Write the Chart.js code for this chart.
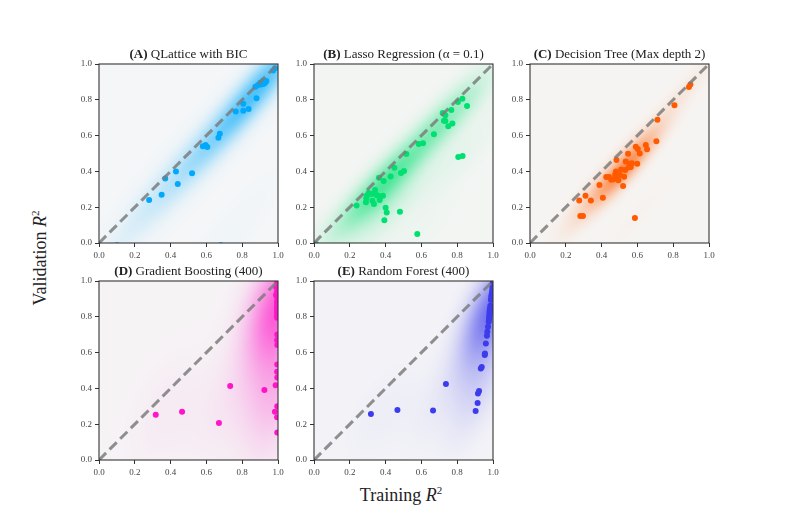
<!DOCTYPE html>
<html>
<head>
<meta charset="utf-8">
<script src="https://cdn.jsdelivr.net/npm/chart.js@4.4.1/dist/chart.umd.min.js"></script>
<style>
body { margin: 0; background: #fff; width: 789px; height: 526px; position: relative; overflow: hidden; font-family: "Liberation Serif", serif; }
canvas { position: absolute; }
.axlab { position: absolute; font-size: 18px; color: #222; white-space: nowrap; }
#ylab { left: 40px; top: 258px; transform: translate(-50%, -50%) rotate(-90deg); }
#xlab { left: 401px; top: 495px; transform: translate(-50%, -50%); }
sup { font-size: 11px; }
</style>
</head>
<body>
<div class="axlab" id="ylab">Validation <i>R</i><sup>2</sup></div>
<div class="axlab" id="xlab">Training <i>R</i><sup>2</sup></div>
<script>
const tickVals = [0, 0.2, 0.4, 0.6, 0.8, 1.0];
const titleBold = ["(A)", "(B)", "(C)", "(D)", "(E)"];
const titleRest = [" QLattice with BIC", " Lasso Regression (α = 0.1)", " Decision Tree (Max depth 2)", " Gradient Boosting (400)", " Random Forest (400)"];

// (A) QLattice
const aTrain = [0.10, 0.68, 0.28, 0.35, 0.37, 0.43, 0.44, 0.52, 0.58, 0.595, 0.605, 0.667, 0.675, 0.764, 0.806, 0.806, 0.836, 0.88, 0.874, 0.889, 0.902, 0.917, 0.93, 0.917, 0.925, 0.91, 0.92, 0.935, 0.905, 0.973, 0.983];
const aValid = [-0.012, -0.012, 0.24, 0.27, 0.36, 0.40, 0.33, 0.39, 0.54, 0.547, 0.536, 0.588, 0.611, 0.734, 0.778, 0.739, 0.748, 0.808, 0.873, 0.882, 0.895, 0.906, 0.90, 0.888, 0.893, 0.89, 0.898, 0.905, 0.885, 0.963, 0.976];
// (B) Lasso
const bTrain = [0.012, 0.238, 0.29, 0.292, 0.296, 0.305, 0.32, 0.326, 0.335, 0.341, 0.348, 0.359, 0.367, 0.363, 0.385, 0.389, 0.393, 0.40, 0.406, 0.428, 0.449, 0.48, 0.486, 0.503, 0.516, 0.577, 0.585, 0.609, 0.67, 0.719, 0.726, 0.734, 0.734, 0.75, 0.767, 0.773, 0.804, 0.806, 0.829, 0.83, 0.855];
const bValid = [-0.005, 0.209, 0.227, 0.25, 0.266, 0.279, 0.274, 0.236, 0.218, 0.296, 0.268, 0.264, 0.240, 0.365, 0.264, 0.346, 0.127, 0.197, 0.171, 0.371, 0.421, 0.175, 0.391, 0.402, 0.497, 0.05, 0.553, 0.557, 0.607, 0.726, 0.683, 0.713, 0.682, 0.652, 0.743, 0.667, 0.788, 0.48, 0.806, 0.486, 0.765];
// (C) Decision tree
const cTrain = [0.275, 0.281, 0.296, 0.31, 0.34, 0.388, 0.407, 0.426, 0.442, 0.454, 0.467, 0.476, 0.48, 0.483, 0.485, 0.494, 0.502, 0.509, 0.52, 0.526, 0.532, 0.535, 0.548, 0.552, 0.559, 0.563, 0.569, 0.586, 0.591, 0.599, 0.602, 0.613, 0.647, 0.654, 0.706, 0.712, 0.807, 0.888, 0.896];
const cValid = [0.238, 0.151, 0.151, 0.264, 0.238, 0.324, 0.253, 0.369, 0.369, 0.354, 0.356, 0.382, 0.40, 0.464, 0.374, 0.35, 0.38, 0.41, 0.318, 0.37, 0.408, 0.456, 0.499, 0.423, 0.443, 0.425, 0.445, 0.14, 0.538, 0.443, 0.525, 0.50, 0.547, 0.524, 0.568, 0.688, 0.77, 0.872, 0.885];
// (D) Gradient boosting
const dTrain = [0.317, 0.464, 0.67, 0.733, 0.924, 0.995, 0.99, 0.989, 0.995, 0.996, 0.995, 0.996, 0.995, 0.996, 0.995, 0.996, 0.996, 0.995, 0.996, 0.987, 0.996, 0.983, 0.995, 0.996, 0.996, 0.995, 0.996, 0.995, 0.996, 0.995, 0.997, 0.996];
const dValid = [0.253, 0.27, 0.207, 0.413, 0.391, 0.99, 0.965, 0.922, 0.884, 0.862, 0.84, 0.82, 0.795, 0.701, 0.67, 0.642, 0.534, 0.493, 0.461, 0.418, 0.30, 0.269, 0.239, 0.153, 0.872, 0.851, 0.83, 0.81, 0.80, 0.94, 0.98, 0.905];
// (E) Random forest
const eTrain = [0.318, 0.466, 0.665, 0.737, 0.903, 0.914, 0.916, 0.922, 0.932, 0.937, 0.954, 0.955, 0.96, 0.966, 0.968, 0.972, 0.976, 0.978, 0.98, 0.981, 0.983, 0.985, 0.988, 0.992, 0.996, 0.998, 0.977, 0.979, 0.981, 0.982, 0.99, 0.994, 0.997, 0.999];
const eValid = [0.257, 0.279, 0.276, 0.425, 0.274, 0.319, 0.371, 0.386, 0.511, 0.52, 0.586, 0.595, 0.651, 0.694, 0.716, 0.744, 0.772, 0.79, 0.81, 0.83, 0.847, 0.862, 0.894, 0.922, 0.95, 0.978, 0.782, 0.80, 0.82, 0.84, 0.91, 0.935, 0.965, 0.99];

const trains = [aTrain, bTrain, cTrain, dTrain, eTrain];
const valids = [aValid, bValid, cValid, dValid, eValid];
const pointColors = ["#00a9fb", "#00e070", "#ff5a00", "#ff14c8", "#3c3cec"];
const bgColors = ["#f4f6f8", "#f3f5f3", "#f6f4f2", "#f6f3f5", "#f3f3f7"];

const colLeft = [99, 314, 530];
const rowTop = [64, 281];

function hexRgb(h) {
    return [parseInt(h.slice(1, 3), 16), parseInt(h.slice(3, 5), 16), parseInt(h.slice(5, 7), 16)];
}

// gaussian kde, full covariance, scott factor (like scipy), widened a bit
function makeKde(xs, ys) {
    const n = xs.length;
    let mx = 0, my = 0;
    for (let i = 0; i < n; i++) { mx += xs[i]; my += ys[i]; }
    mx /= n; my /= n;
    let sxx = 0, syy = 0, sxy = 0;
    for (let i = 0; i < n; i++) {
        const dx = xs[i] - mx, dy = ys[i] - my;
        sxx += dx * dx; syy += dy * dy; sxy += dx * dy;
    }
    const f2 = Math.pow(n, -1 / 3) * 1.4 * 1.4;
    const a = sxx / (n - 1) * f2, b = sxy / (n - 1) * f2, c = syy / (n - 1) * f2;
    const det = a * c - b * b;
    const ia = c / det, ib = -b / det, ic = a / det;
    return (x, y) => {
        let s = 0;
        for (let i = 0; i < n; i++) {
            const dx = x - xs[i], dy = y - ys[i];
            s += Math.exp(-0.5 * (ia * dx * dx + 2 * ib * dx * dy + ic * dy * dy));
        }
        return s;
    };
}

const panelPlugin = {
    id: 'panel',
    beforeDatasetsDraw(chart, args, opts) {
        const ctx = chart.ctx;
        const { left, top, right, bottom } = chart.chartArea;
        const xs = chart.scales.x, ys = chart.scales.y;
        const pts = chart.data.datasets[1].data;
        const dens = makeKde(pts.map(p => p.x), pts.map(p => p.y));
        const cells = [];
        let max = 0;
        for (let py = top; py < bottom; py++) {
            for (let px = left; px < right; px++) {
                const d = dens(xs.getValueForPixel(px + 0.5), ys.getValueForPixel(py + 0.5));
                cells.push([px, py, d]);
                if (d > max) max = d;
            }
        }
        const c0 = hexRgb(opts.bg), c1 = hexRgb(opts.color);
        ctx.save();
        ctx.beginPath();
        ctx.rect(left, top, right - left, bottom - top);
        ctx.clip();
        cells.forEach(([px, py, d]) => {
            const t = 0.68 * Math.pow(d / max, 1.2);
            const r = Math.round(c0[0] + (c1[0] - c0[0]) * t);
            const g = Math.round(c0[1] + (c1[1] - c0[1]) * t);
            const b = Math.round(c0[2] + (c1[2] - c0[2]) * t);
            ctx.fillStyle = `rgb(${r},${g},${b})`;
            ctx.fillRect(px, py, 1.3, 1.3);
        });
        ctx.restore();
    },
    afterDatasetsDraw(chart) {
        const ctx = chart.ctx;
        const { left, top, right, bottom } = chart.chartArea;
        ctx.save();
        ctx.strokeStyle = '#333';
        ctx.lineWidth = 1.1;
        ctx.strokeRect(left, top, right - left, bottom - top);
        ctx.restore();
    },
    afterDraw(chart, args, opts) {
        const ctx = chart.ctx;
        const { left, right, top } = chart.chartArea;
        ctx.save();
        ctx.fillStyle = '#222';
        ctx.textBaseline = 'alphabetic';
        ctx.font = 'bold 13px "Liberation Serif"';
        const wb = ctx.measureText(opts.bold).width;
        ctx.font = '13px "Liberation Serif"';
        const wr = ctx.measureText(opts.rest).width;
        const x0 = (left + right) / 2 - (wb + wr) / 2;
        ctx.font = 'bold 13px "Liberation Serif"';
        ctx.fillText(opts.bold, x0, top - 6);
        ctx.font = '13px "Liberation Serif"';
        ctx.fillText(opts.rest, x0 + wb, top - 6);
        ctx.restore();
    }
};

function axisOpts(fitFn) {
    return {
        type: 'linear',
        min: 0,
        max: 1,
        afterBuildTicks: s => { s.ticks = tickVals.map(v => ({ value: v })); },
        afterFit: fitFn,
        grid: { drawOnChartArea: false, drawTicks: true, tickLength: 4, tickColor: '#333', color: '#333' },
        border: { display: false },
        ticks: {
            color: '#444',
            font: { family: '"Liberation Serif"', size: 9 },
            padding: 3,
            callback: v => v.toFixed(1)
        }
    };
}

trains.forEach((tr, i) => {
    const canvas = document.createElement('canvas');
    const L = colLeft[i % 3], T = rowTop[Math.floor(i / 3)];
    canvas.width = 229;
    canvas.height = 223;
    canvas.style.left = (L - 40) + 'px';
    canvas.style.top = (T - 24) + 'px';
    document.body.appendChild(canvas);

    const pts = tr.map((x, k) => ({ x: x, y: valids[i][k] }));
    new Chart(canvas, {
        type: 'scatter',
        data: {
            datasets: [
                {
                    type: 'line',
                    data: [{ x: 0, y: 0 }, { x: 1, y: 1 }],
                    borderColor: 'rgba(125,125,125,0.85)',
                    borderWidth: 3,
                    borderDash: [10, 5],
                    pointRadius: 0
                },
                {
                    data: pts,
                    backgroundColor: pointColors[i],
                    borderWidth: 0,
                    pointRadius: 3
                }
            ]
        },
        options: {
            responsive: false,
            animation: false,
            layout: { padding: { top: 24, right: 10, left: 0, bottom: 0 } },
            scales: {
                x: axisOpts(s => { s.height = 20; }),
                y: axisOpts(s => { s.width = 40; })
            },
            plugins: {
                legend: { display: false },
                tooltip: { enabled: false },
                panel: { bg: bgColors[i], color: pointColors[i], bold: titleBold[i], rest: titleRest[i] }
            }
        },
        plugins: [panelPlugin]
    });
});
</script>
</body>
</html>
